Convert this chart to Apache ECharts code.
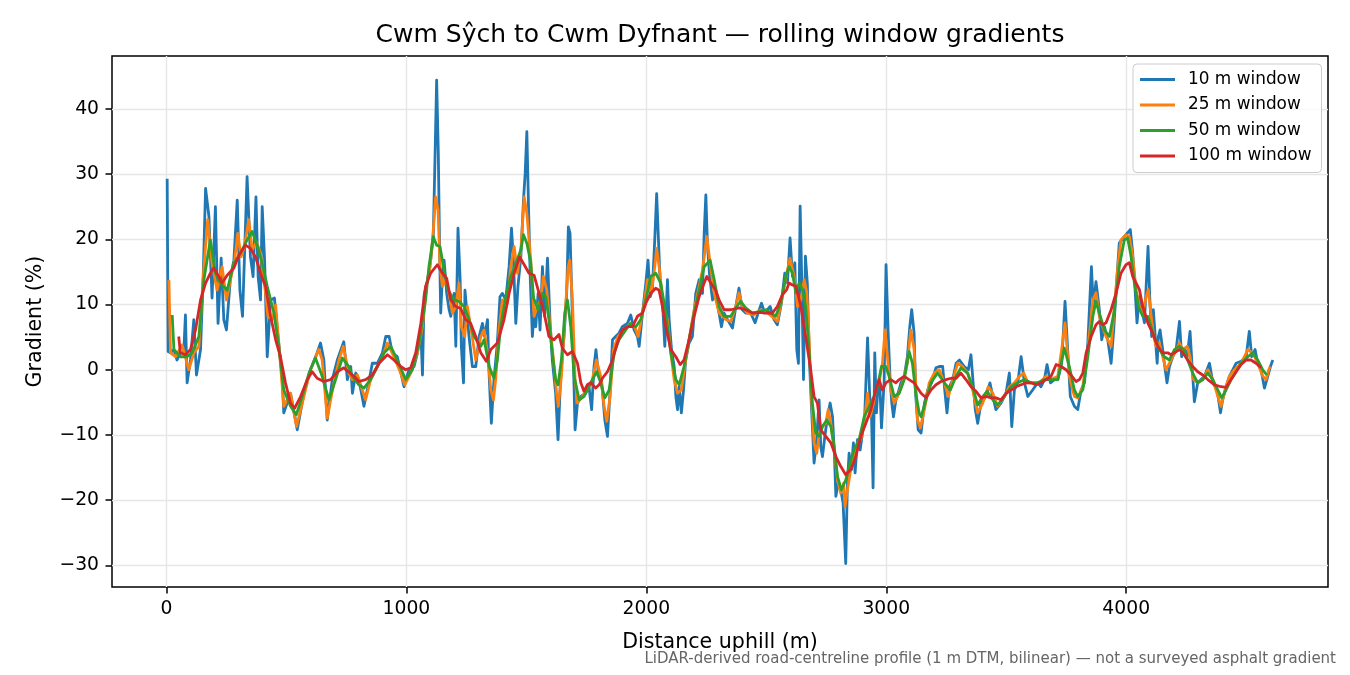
<!DOCTYPE html>
<html lang="en">

<head>
    <meta charset="UTF-8">
    <title>Rolling window gradients</title>
    <script src="https://cdn.jsdelivr.net/npm/echarts@6/dist/echarts.min.js"></script>
    <style>
        html, body {
            margin: 0;
            padding: 0;
            background-color: #ffffff;
        }

        #chart {
            width: 1350px;
            height: 675px;
        }
    </style>
</head>

<body>
    <div id="chart"></div>

    <script>
        // tick positions
        var xTicks = [0, 1000, 2000, 3000, 4000];
        var yTicks = [-30, -20, -10, 0, 10, 20, 30, 40];

        // [distance uphill (m), gradient (%)]
        var w10 = [
            [3, 29.3], [7, 2.8], [17, 2.6], [31, 3.1], [44, 1.5], [58, 2.6], [72, 2.6], [79, 8.4], [86, -2.0], [100, 1.5],
            [114, 7.7], [125, -0.8], [142, 3.1], [153, 14.3], [163, 27.8], [177, 23.5], [190, 11.0], [204, 25.0], [215, 7.1],
            [228, 17.1], [239, 7.7], [250, 6.1], [267, 14.3], [281, 16.8], [295, 26.0], [306, 12.2], [317, 8.2], [336, 29.6],
            [350, 17.3], [361, 14.3], [373, 26.5], [382, 14.3], [392, 10.7], [399, 25.0], [409, 16.8], [420, 2.0], [434, 10.7],
            [450, 11.0], [461, 6.6], [482, -1.0], [489, -6.6], [517, -3.6], [545, -9.2], [573, -3.6], [600, 0.0], [628, 2.6],
            [642, 4.1], [656, 1.5], [670, -7.7], [691, -1.5], [712, 1.5], [739, 4.3], [754, -1.5], [768, 0.5], [775, -3.6],
            [789, -0.5], [802, -1.5], [823, -5.6], [837, -3.1], [858, 1.0], [879, 1.0], [900, 2.6], [914, 5.1], [928, 5.1],
            [941, 2.6], [962, 2.0], [990, -2.6], [1011, 0.0], [1032, 0.5], [1046, 2.6], [1060, 6.1], [1067, -0.8], [1074, 11.5],
            [1087, 13.5], [1101, 16.8], [1112, 20.4], [1119, 32.1], [1126, 44.4], [1133, 33.2], [1139, 16.8], [1143, 8.7],
            [1150, 14.3], [1157, 16.8], [1168, 11.7], [1178, 9.2], [1185, 8.2], [1199, 11.7], [1206, 3.6], [1215, 21.7],
            [1224, 13.8], [1229, 3.6], [1238, -2.0], [1244, 12.2], [1251, 12.2], [1261, 5.1], [1275, 0.5], [1289, 0.5],
            [1303, 5.1], [1317, 7.1], [1326, 5.1], [1338, 7.7], [1345, -1.0], [1354, -8.2], [1365, -1.5], [1379, 4.1],
            [1390, 11.2], [1400, 11.7], [1414, 10.7], [1428, 15.8], [1438, 21.7], [1446, 16.8], [1456, 7.1], [1465, 12.8],
            [1477, 17.3], [1488, 26.0], [1495, 30.1], [1502, 36.5], [1509, 25.0], [1516, 14.3], [1525, 5.1], [1532, 8.7],
            [1539, 6.6], [1549, 11.7], [1557, 6.1], [1567, 15.8], [1576, 8.2], [1588, 17.1], [1599, 7.1], [1608, 1.5],
            [1622, -3.6], [1632, -10.7], [1643, -1.0], [1657, 5.1], [1668, 11.7], [1675, 21.9], [1682, 20.9], [1689, 11.7],
            [1696, 1.5], [1703, -9.2], [1713, -5.1], [1727, -4.1], [1747, -3.6], [1761, -2.6], [1772, -6.1], [1782, 0.5],
            [1790, 3.1], [1800, -0.5], [1813, -1.5], [1827, -7.7], [1838, -10.2], [1849, -3.1], [1859, 4.6], [1872, 5.1],
            [1886, 5.6], [1900, 6.6], [1921, 7.1], [1935, 8.4], [1949, 6.1], [1963, 5.1], [1970, 3.6], [1984, 8.7],
            [1998, 13.3], [2007, 16.8], [2016, 11.2], [2025, 12.2], [2035, 19.9], [2043, 27.0], [2050, 20.4], [2057, 13.8],
            [2067, 10.7], [2077, 3.6], [2088, 13.8], [2095, 7.7], [2105, 3.1], [2116, 0.5], [2123, -4.1], [2130, -6.1],
            [2137, -2.6], [2146, -6.6], [2155, -3.1], [2164, 1.5], [2178, 4.1], [2192, 5.1], [2206, 11.7], [2220, 13.8],
            [2234, 11.7], [2241, 20.9], [2248, 26.8], [2255, 18.9], [2264, 14.3], [2276, 10.7], [2289, 11.7], [2303, 8.7],
            [2313, 6.6], [2324, 8.7], [2338, 7.7], [2359, 6.4], [2373, 9.7], [2386, 12.5], [2400, 9.2], [2414, 8.7],
            [2435, 8.7], [2453, 7.2], [2466, 8.7], [2480, 10.2], [2493, 8.7], [2516, 9.7], [2532, 7.7], [2546, 6.9],
            [2563, 10.2], [2577, 14.8], [2588, 13.3], [2599, 20.2], [2609, 14.3], [2619, 16.4], [2627, 3.1], [2634, 1.0],
            [2641, 25.1], [2648, 13.3], [2655, -1.5], [2663, 17.4], [2671, 13.3], [2678, 3.1], [2685, -3.1], [2692, -8.7],
            [2699, -14.3], [2709, -11.2], [2720, -4.6], [2727, -11.8], [2734, -13.3], [2744, -10.2], [2755, -7.2], [2766, -5.1],
            [2776, -7.2], [2783, -12.3], [2790, -19.4], [2799, -17.4], [2810, -18.4], [2820, -20.4], [2831, -29.7], [2838, -17.4],
            [2845, -12.8], [2855, -15.3], [2863, -11.2], [2870, -15.8], [2880, -10.7], [2891, -12.3], [2901, -9.7], [2910, -7.2],
            [2922, 4.9], [2931, -4.1], [2938, -6.1], [2945, -18.1], [2952, 2.6], [2959, -6.6], [2966, -2.0], [2974, -3.1],
            [2980, -8.9], [2991, -2.0], [2999, 16.1], [3008, 5.6], [3016, -1.5], [3023, -5.1], [3030, -7.2], [3040, -4.6],
            [3049, -3.6], [3061, -2.0], [3075, -1.0], [3088, 2.0], [3098, 6.6], [3106, 9.2], [3116, 5.6], [3123, -4.1],
            [3133, -9.2], [3145, -9.7], [3159, -5.1], [3173, -3.1], [3189, -2.0], [3207, 0.3], [3221, 0.5], [3235, 0.5],
            [3245, -3.6], [3253, -6.6], [3263, -2.6], [3277, -1.5], [3291, 1.0], [3305, 1.5], [3325, 0.5], [3342, 0.0],
            [3353, 2.3], [3362, -2.0], [3371, -6.1], [3381, -8.2], [3395, -5.1], [3416, -4.1], [3432, -2.0], [3444, -4.1],
            [3457, -6.1], [3478, -5.1], [3499, -3.6], [3513, -0.5], [3523, -8.7], [3534, -3.1], [3548, -2.0], [3562, 2.0],
            [3576, -2.0], [3590, -4.1], [3610, -3.1], [3631, -2.0], [3645, -2.6], [3659, -1.5], [3670, 0.8], [3684, -2.0],
            [3701, -1.5], [3715, -1.5], [3731, 1.0], [3745, 10.5], [3756, 3.1], [3767, -4.1], [3784, -5.6], [3798, -6.1],
            [3812, -3.1], [3826, -2.0], [3840, 4.1], [3849, 11.2], [3855, 15.8], [3863, 9.7], [3874, 13.5], [3888, 9.2],
            [3898, 4.6], [3909, 6.6], [3923, 4.6], [3937, 1.0], [3948, 6.1], [3958, 12.3], [3971, 19.4], [3992, 20.4],
            [4006, 21.0], [4017, 21.5], [4027, 17.9], [4037, 12.3], [4045, 7.2], [4055, 11.2], [4065, 9.2], [4076, 7.2],
            [4085, 14.3], [4091, 18.9], [4098, 11.2], [4106, 5.1], [4113, 9.2], [4122, 4.6], [4129, 1.0], [4134, 5.1],
            [4141, 6.1], [4152, 3.1], [4159, 1.0], [4170, -2.0], [4180, 0.5], [4194, 2.0], [4208, 3.1], [4222, 7.4],
            [4231, 2.0], [4243, 3.1], [4254, 2.0], [4266, 5.9], [4274, 1.0], [4284, -4.9], [4298, -2.0], [4312, -1.5],
            [4326, -1.0], [4347, 1.0], [4361, -2.0], [4379, -3.1], [4393, -6.6], [4402, -4.6], [4416, -2.6], [4430, -1.0],
            [4444, 0.0], [4458, 1.0], [4479, 1.3], [4500, 2.0], [4513, 5.9], [4523, 2.0], [4537, 3.1], [4548, 1.0],
            [4562, 0.0], [4576, -2.8], [4590, -1.0], [4601, 0.5], [4611, 1.5]
        ];

        var w25 = [
            [10, 13.8], [17, 2.6], [38, 2.0], [65, 3.8], [93, 0.0], [114, 2.6], [135, 3.6], [156, 15.8], [172, 23.0],
            [190, 16.3], [211, 12.2], [232, 15.8], [250, 10.7], [267, 13.8], [284, 16.8], [297, 20.9], [311, 17.3],
            [325, 18.9], [343, 23.0], [357, 18.4], [375, 19.6], [392, 17.9], [413, 11.7], [423, 8.2], [441, 7.7],
            [455, 9.9], [468, 4.1], [489, -5.6], [517, -3.6], [542, -8.7], [573, -4.1], [600, 0.0], [635, 3.1],
            [649, 1.5], [670, -7.4], [698, -2.0], [719, 1.5], [737, 3.6], [760, -0.5], [775, -1.5], [796, -0.8],
            [816, -3.1], [830, -4.6], [851, -1.5], [879, 0.5], [900, 2.0], [921, 4.1], [948, 2.0], [976, -0.5],
            [993, -2.3], [1018, -0.5], [1046, 2.6], [1067, 6.6], [1085, 13.3], [1099, 15.8], [1112, 21.4], [1122, 26.5],
            [1132, 24.5], [1140, 15.8], [1150, 12.8], [1164, 13.8], [1178, 11.7], [1192, 8.7], [1206, 9.7], [1219, 13.3],
            [1229, 6.6], [1243, 5.1], [1254, 9.7], [1268, 6.6], [1289, 1.5], [1310, 5.1], [1324, 6.1], [1338, 2.6],
            [1352, -3.1], [1363, -4.6], [1372, -1.5], [1386, 6.1], [1400, 10.7], [1421, 10.2], [1435, 15.8], [1449, 18.9],
            [1463, 14.8], [1477, 18.4], [1491, 26.5], [1502, 24.0], [1518, 17.0], [1532, 8.2], [1546, 9.7], [1560, 10.7],
            [1571, 14.3], [1585, 12.2], [1599, 6.6], [1613, 1.5], [1626, -3.6], [1633, -5.6], [1646, -1.0], [1660, 7.7],
            [1674, 15.8], [1681, 16.8], [1692, 10.7], [1703, -1.5], [1713, -5.1], [1733, -4.1], [1754, -3.1], [1775, -1.5],
            [1792, 1.5], [1810, -1.0], [1824, -5.6], [1835, -7.9], [1849, -4.1], [1863, 3.1], [1882, 5.1], [1907, 6.1],
            [1932, 7.1], [1952, 6.6], [1966, 5.1], [1991, 10.2], [2005, 13.8], [2021, 11.7], [2035, 15.8], [2043, 18.6],
            [2057, 14.8], [2071, 8.7], [2088, 7.7], [2102, 2.6], [2116, -1.5], [2130, -3.6], [2146, -3.1], [2160, 0.5],
            [2178, 4.6], [2199, 9.2], [2220, 12.8], [2234, 15.3], [2252, 20.4], [2266, 16.3], [2283, 11.7], [2303, 8.7],
            [2331, 7.7], [2352, 7.4], [2373, 9.7], [2386, 11.8], [2400, 9.7], [2421, 8.7], [2449, 8.4], [2477, 9.2],
            [2505, 8.7], [2532, 7.9], [2546, 7.4], [2567, 11.2], [2585, 14.8], [2599, 17.1], [2616, 14.3], [2630, 9.7],
            [2644, 10.7], [2658, 13.8], [2669, 11.8], [2678, 5.1], [2688, -4.1], [2699, -11.2], [2710, -12.8], [2721, -9.7],
            [2734, -8.7], [2748, -8.2], [2758, -6.1], [2769, -8.2], [2783, -12.3], [2797, -16.9], [2810, -18.9], [2822, -17.4],
            [2828, -21.0], [2838, -18.4], [2852, -15.3], [2866, -12.8], [2880, -11.2], [2894, -10.7], [2908, -8.2], [2922, -3.6],
            [2933, -7.2], [2947, -5.1], [2956, -3.1], [2970, -2.0], [2984, 1.0], [2995, 6.1], [3005, 2.0], [3019, -3.1],
            [3033, -5.1], [3047, -4.1], [3068, -2.0], [3088, 1.0], [3102, 6.1], [3116, 3.1], [3130, -7.7], [3142, -8.9],
            [3159, -6.1], [3179, -2.0], [3200, -0.5], [3221, 0.0], [3242, -2.0], [3259, -4.1], [3277, -1.5], [3298, 1.0],
            [3318, 0.5], [3339, -0.5], [3360, -3.1], [3381, -6.6], [3402, -5.1], [3425, -2.6], [3444, -3.6], [3464, -5.6],
            [3492, -4.1], [3513, -2.6], [3534, -2.0], [3555, -1.0], [3573, -0.5], [3590, -2.0], [3610, -2.0], [3638, -2.0],
            [3666, -1.0], [3687, -1.5], [3715, -1.0], [3731, 3.1], [3745, 7.2], [3763, -1.0], [3784, -4.1], [3798, -4.3],
            [3819, -2.6], [3840, 3.1], [3861, 10.7], [3874, 11.8], [3888, 8.2], [3902, 6.6], [3916, 5.1], [3937, 3.6],
            [3951, 9.7], [3965, 15.8], [3978, 19.9], [3999, 20.7], [4013, 20.4], [4027, 17.4], [4041, 12.3], [4055, 9.7],
            [4069, 8.7], [4083, 11.2], [4092, 12.3], [4104, 8.2], [4115, 5.1], [4124, 3.6], [4138, 4.1], [4152, 2.0],
            [4166, 0.0], [4187, 1.5], [4208, 3.1], [4222, 4.1], [4236, 3.1], [4254, 3.6], [4266, 2.0], [4281, -1.5],
            [4298, -2.0], [4319, -1.5], [4340, 0.0], [4361, -1.5], [4382, -4.1], [4395, -5.6], [4412, -3.1], [4430, -1.0],
            [4451, 0.0], [4479, 1.0], [4507, 3.1], [4527, 2.6], [4548, 1.0], [4569, -1.0], [4583, -1.5], [4594, 0.0],
            [4600, 0.5]
        ];

        var w50 = [
            [24, 8.4], [31, 3.1], [58, 2.0], [86, 2.0], [107, 2.6], [135, 5.1], [156, 13.8], [183, 19.9], [204, 14.8],
            [225, 13.3], [253, 12.2], [281, 16.3], [309, 17.9], [336, 19.9], [357, 21.2], [378, 19.1], [399, 16.3],
            [420, 12.8], [448, 8.7], [468, 3.6], [489, -3.1], [517, -5.6], [541, -6.9], [566, -4.1], [594, -0.5],
            [621, 1.8], [649, -1.0], [677, -4.6], [705, -1.5], [733, 1.8], [760, 0.5], [775, -1.0], [802, -2.3],
            [823, -2.8], [851, -1.5], [879, 0.5], [907, 2.6], [935, 3.6], [962, 1.5], [997, -1.5], [1025, 0.0],
            [1053, 4.1], [1080, 10.7], [1094, 15.8], [1112, 20.4], [1126, 19.1], [1140, 18.9], [1157, 15.3], [1174, 12.2],
            [1199, 10.7], [1219, 10.5], [1240, 9.7], [1261, 7.7], [1282, 5.1], [1310, 3.6], [1324, 4.6], [1345, 0.5],
            [1365, -1.3], [1379, 1.5], [1393, 6.6], [1414, 11.2], [1435, 14.3], [1456, 16.3], [1477, 18.4], [1488, 20.7],
            [1502, 19.4], [1518, 16.5], [1530, 11.0], [1549, 9.2], [1567, 11.7], [1581, 11.2], [1594, 7.7], [1608, 2.6],
            [1622, -1.5], [1632, -2.3], [1646, 1.5], [1660, 8.7], [1671, 10.7], [1685, 6.6], [1699, -1.0], [1720, -4.6],
            [1740, -4.1], [1768, -2.0], [1793, -0.3], [1810, -2.0], [1827, -4.3], [1845, -3.1], [1866, 2.6], [1886, 4.6],
            [1914, 6.1], [1935, 7.1], [1956, 6.6], [1977, 7.7], [1998, 10.7], [2018, 14.3], [2039, 14.8], [2060, 13.3],
            [2081, 8.7], [2102, 2.6], [2123, -1.5], [2137, -2.3], [2157, 0.5], [2178, 4.6], [2199, 8.7], [2220, 12.2],
            [2241, 15.8], [2266, 16.8], [2283, 13.8], [2303, 9.7], [2324, 8.2], [2352, 8.2], [2373, 9.5], [2393, 10.5],
            [2414, 9.5], [2442, 8.7], [2470, 8.9], [2498, 9.2], [2519, 8.7], [2539, 8.2], [2560, 10.2], [2581, 14.3],
            [2595, 15.8], [2609, 14.8], [2623, 11.8], [2637, 13.3], [2651, 12.3], [2664, 9.7], [2678, 3.1], [2692, -5.1],
            [2706, -9.7], [2720, -10.2], [2734, -8.7], [2752, -7.7], [2769, -8.7], [2783, -11.8], [2797, -16.4], [2813, -18.4],
            [2831, -16.9], [2849, -14.3], [2866, -12.3], [2887, -10.7], [2908, -7.2], [2929, -5.6], [2949, -4.1], [2963, -2.6],
            [2980, 0.5], [2998, 0.5], [3012, -1.0], [3033, -4.1], [3054, -3.6], [3075, -1.5], [3095, 2.8], [3109, 1.0],
            [3123, -3.6], [3137, -6.6], [3145, -7.2], [3166, -4.6], [3186, -2.0], [3214, -0.5], [3242, -2.0], [3267, -3.1],
            [3291, -1.0], [3311, 0.3], [3339, -0.5], [3360, -2.6], [3381, -5.4], [3402, -4.1], [3420, -3.3], [3444, -4.6],
            [3464, -5.4], [3492, -4.1], [3520, -2.6], [3548, -2.0], [3576, -1.5], [3603, -2.0], [3631, -2.0], [3659, -1.5],
            [3687, -1.5], [3715, -1.5], [3742, 3.3], [3763, 0.5], [3784, -3.1], [3798, -4.1], [3819, -3.1], [3840, 2.0],
            [3861, 8.2], [3874, 10.5], [3888, 8.7], [3909, 6.1], [3930, 5.1], [3951, 9.2], [3971, 15.8], [3992, 19.9],
            [4006, 20.2], [4020, 17.4], [4034, 13.3], [4051, 9.7], [4069, 8.2], [4090, 8.2], [4104, 6.6], [4117, 5.1],
            [4138, 3.1], [4159, 2.0], [4180, 1.5], [4201, 3.1], [4222, 3.6], [4240, 3.1], [4256, 1.5], [4277, -0.5],
            [4298, -2.0], [4319, -1.5], [4340, -0.5], [4361, -1.5], [4382, -3.1], [4398, -4.3], [4416, -3.1], [4437, -1.5],
            [4458, -0.3], [4479, 1.0], [4507, 2.0], [4527, 2.6], [4548, 1.5], [4569, 0.0], [4586, -0.8]
        ];

        var w100 = [
            [51, 5.1], [58, 2.6], [79, 2.3], [100, 3.1], [121, 6.1], [142, 10.7], [163, 13.3], [183, 14.8], [197, 15.6],
            [218, 14.3], [232, 13.3], [253, 14.5], [281, 15.6], [302, 17.6], [329, 19.1], [350, 18.6], [371, 17.3],
            [392, 14.8], [413, 12.8], [434, 8.2], [455, 4.6], [475, 2.0], [496, -2.0], [517, -5.1], [534, -5.9],
            [559, -4.1], [587, -1.5], [607, -0.3], [628, -1.3], [656, -1.8], [684, -1.5], [712, -0.3], [739, 0.3],
            [782, -1.0], [802, -1.8], [830, -1.5], [858, -0.8], [886, 1.0], [921, 2.3], [948, 1.5], [976, 0.5],
            [997, 0.0], [1018, 0.3], [1039, 2.6], [1060, 7.1], [1080, 12.8], [1101, 14.8], [1129, 16.1], [1150, 14.8],
            [1168, 14.0], [1185, 10.7], [1206, 9.7], [1226, 9.4], [1247, 7.7], [1268, 7.1], [1289, 5.1], [1310, 2.6],
            [1333, 1.3], [1352, 3.1], [1379, 4.1], [1407, 7.7], [1428, 11.7], [1449, 14.8], [1472, 17.3], [1491, 16.1],
            [1511, 14.8], [1532, 14.5], [1553, 11.7], [1574, 8.7], [1594, 5.1], [1615, 4.6], [1636, 5.4], [1650, 3.3],
            [1671, 2.3], [1692, 2.8], [1713, 1.0], [1727, -2.0], [1740, -3.3], [1754, -2.3], [1768, -2.0], [1789, -2.8],
            [1803, -2.3], [1817, -1.3], [1838, -0.3], [1859, 1.5], [1879, 4.1], [1900, 6.1], [1921, 6.6], [1942, 6.6],
            [1963, 8.2], [1984, 8.7], [1998, 10.2], [2018, 11.7], [2039, 12.5], [2053, 12.2], [2067, 9.7], [2081, 6.6],
            [2102, 3.1], [2123, 2.0], [2141, 0.8], [2157, 1.5], [2178, 4.6], [2199, 8.2], [2220, 11.2], [2241, 13.3],
            [2252, 14.3], [2269, 13.3], [2289, 12.2], [2303, 10.7], [2324, 9.2], [2352, 9.2], [2386, 9.5], [2414, 9.2],
            [2442, 8.7], [2470, 8.8], [2498, 8.7], [2525, 8.7], [2546, 9.7], [2567, 11.5], [2585, 12.3], [2595, 13.3],
            [2609, 13.0], [2623, 12.8], [2644, 9.7], [2664, 5.1], [2685, 0.0], [2699, -4.1], [2713, -5.1], [2727, -9.2],
            [2748, -10.2], [2769, -11.2], [2790, -13.3], [2810, -14.8], [2831, -16.1], [2852, -15.3], [2873, -13.3],
            [2894, -10.2], [2915, -8.2], [2936, -6.1], [2956, -3.1], [2970, -1.5], [2984, -3.1], [2998, -2.0], [3019, -1.5],
            [3040, -2.0], [3054, -1.5], [3075, -1.0], [3095, -1.5], [3116, -2.0], [3145, -3.6], [3166, -4.3], [3186, -3.1],
            [3207, -2.3], [3228, -1.8], [3249, -1.5], [3270, -1.3], [3291, -1.3], [3311, -0.5], [3332, -1.5], [3353, -2.6],
            [3374, -3.3], [3395, -4.3], [3416, -4.1], [3437, -4.3], [3457, -4.3], [3478, -4.6], [3499, -3.6], [3520, -3.1],
            [3541, -2.6], [3562, -2.3], [3583, -2.0], [3603, -2.0], [3624, -2.3], [3645, -2.0], [3666, -1.5], [3687, -1.0],
            [3708, 0.8], [3729, 0.5], [3749, 0.0], [3770, -0.8], [3791, -1.8], [3805, -1.5], [3819, -0.5], [3833, 2.6],
            [3854, 5.1], [3874, 6.9], [3888, 7.4], [3902, 6.9], [3916, 7.2], [3937, 9.2], [3958, 11.8], [3978, 14.8],
            [3999, 16.1], [4013, 16.4], [4027, 14.3], [4041, 13.3], [4055, 12.3], [4069, 9.7], [4090, 7.2], [4110, 5.6],
            [4131, 3.6], [4152, 2.6], [4173, 2.6], [4187, 2.3], [4201, 2.6], [4222, 3.1], [4236, 2.6], [4256, 1.5],
            [4277, 0.5], [4298, -0.3], [4319, -0.8], [4340, -1.5], [4368, -2.3], [4395, -2.6], [4416, -2.7], [4437, -1.5],
            [4458, -0.3], [4479, 0.8], [4500, 1.5], [4520, 1.5], [4541, 1.0], [4562, 0.3]
        ];

        var seriesNames = ['10 m window', '25 m window', '50 m window', '100 m window'];
        var seriesColors = ['#1f77b4', '#ff7f0e', '#2ca02c', '#d62728'];
        var seriesData = [w10, w25, w50, w100];

        var FONT = 'DejaVu Sans';

        // plain numbers, with a real minus sign like matplotlib
        function tickText(v) {
            return String(v).replace('-', '\u2212');
        }

        var chart = echarts.init(document.getElementById('chart'), null, { renderer: 'canvas' });

        var option = {
            animation: false,
            backgroundColor: '#ffffff',
            textStyle: { fontFamily: FONT },
            title: {
                text: 'Cwm S\u0177ch to Cwm Dyfnant \u2014 rolling window gradients',
                left: 720,
                top: 23,
                padding: 0,
                textAlign: 'center',
                textStyle: { fontFamily: FONT, fontSize: 25, fontWeight: 'normal', color: '#000' }
            },
            legend: {
                orient: 'vertical',
                left: 1133,
                top: 64,
                padding: [7, 10, 8, 7],
                itemWidth: 35,
                itemHeight: 3,
                itemGap: 8.5,
                icon: 'rect',
                backgroundColor: 'rgba(255,255,255,0.8)',
                borderColor: '#cccccc',
                borderWidth: 1,
                borderRadius: 4,
                textStyle: { fontFamily: FONT, fontSize: 16.9, color: '#000', lineHeight: 17, padding: [0, 0, 0, 8] },
                data: seriesNames
            },
            grid: {
                left: 112,
                right: 22,
                top: 56,
                bottom: 88,
                show: true,
                borderColor: '#000',
                borderWidth: 1.5,
                backgroundColor: 'transparent'
            },
            xAxis: {
                type: 'value',
                min: -227,
                max: 4841,
                name: 'Distance uphill (m)',
                nameLocation: 'middle',
                nameGap: 45,
                nameTextStyle: { fontFamily: FONT, fontSize: 20.6, color: '#000' },
                axisLine: { show: false, onZero: false },
                axisTick: { show: true, inside: false, length: 6.5, customValues: xTicks, lineStyle: { color: '#000', width: 1.5 } },
                axisLabel: { margin: 13, fontFamily: FONT, fontSize: 18.75, color: '#000', customValues: xTicks, formatter: tickText },
                splitLine: { show: true, lineStyle: { color: '#e6e6e6', width: 1.4 } }
            },
            yAxis: {
                type: 'value',
                min: -33.3,
                max: 48.1,
                name: 'Gradient (%)',
                nameLocation: 'middle',
                nameGap: 66,
                nameRotate: 90,
                nameTextStyle: { fontFamily: FONT, fontSize: 20.6, color: '#000' },
                axisLine: { show: false, onZero: false },
                axisTick: { show: true, inside: false, length: 6.5, customValues: yTicks, lineStyle: { color: '#000', width: 1.5 } },
                axisLabel: { margin: 13, fontFamily: FONT, fontSize: 18.75, color: '#000', customValues: yTicks, formatter: tickText },
                splitLine: { show: true, lineStyle: { color: '#e6e6e6', width: 1.4 } }
            },
            graphic: [
                {
                    type: 'text',
                    right: 14,
                    top: 652,
                    style: {
                        text: 'LiDAR-derived road-centreline profile (1 m DTM, bilinear) \u2014 not a surveyed asphalt gradient',
                        fontFamily: FONT,
                        fontSize: 15,
                        fill: '#666666'
                    }
                }
            ],
            series: seriesData.map(function (d, i) {
                return {
                    name: seriesNames[i],
                    type: 'line',
                    data: d,
                    showSymbol: false,
                    symbol: 'none',
                    clip: true,
                    lineStyle: { color: seriesColors[i], width: 2.8, join: 'round' },
                    itemStyle: { color: seriesColors[i] },
                    emphasis: { disabled: true }
                };
            })
        };

        chart.setOption(option);
    </script>
</body>

</html>
